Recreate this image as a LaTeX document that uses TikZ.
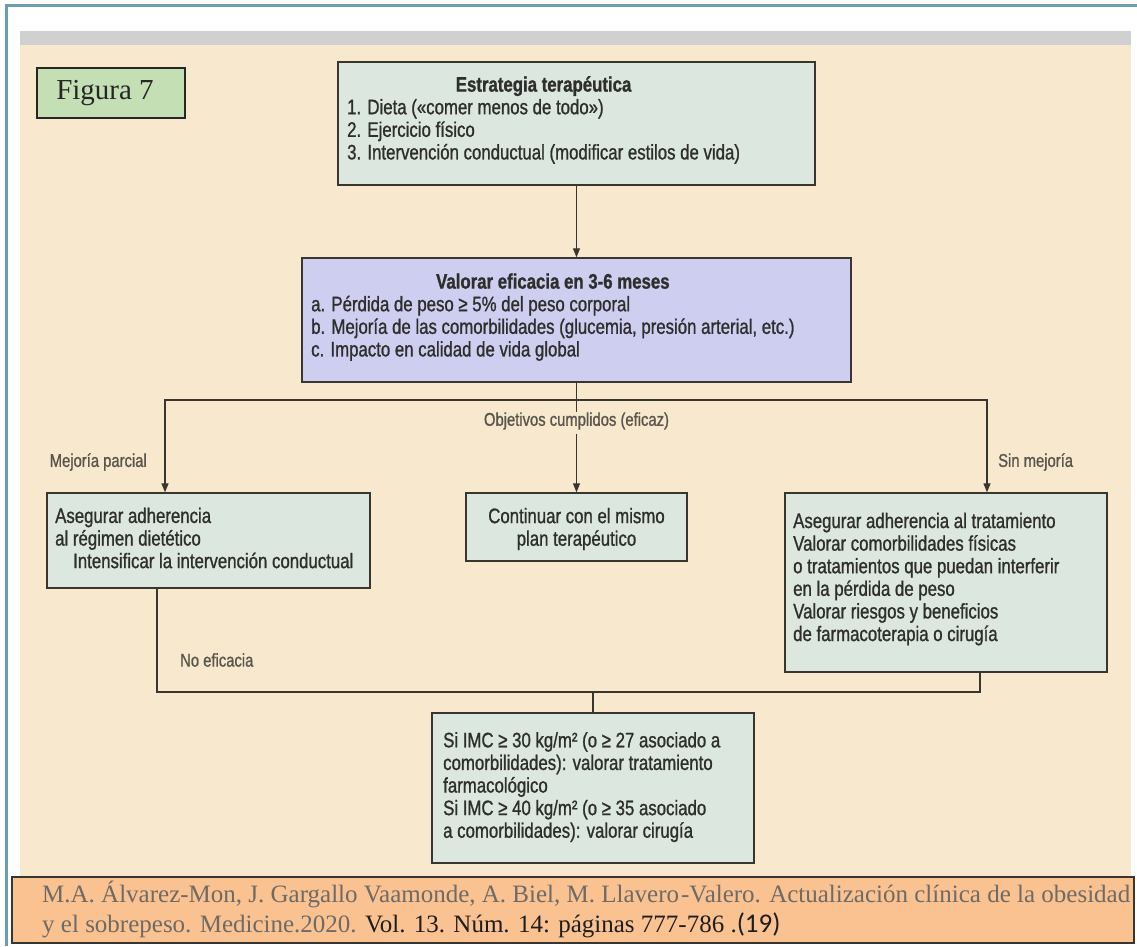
\documentclass[tikz,border=0pt]{standalone}
\usepackage{fontspec}
\setmainfont{Liberation Serif}
\newfontfamily\cond[FakeStretch=0.8,FakeBold=1.0]{Liberation Sans}
\newfontfamily\carl{Carlito}
\usetikzlibrary{arrows.meta}

\definecolor{frameblue}{HTML}{6A9DB2}
\definecolor{band}{HTML}{D0D0D0}
\definecolor{beige}{HTML}{F8E8CD}
\definecolor{boxfill}{HTML}{DCE7DF}
\definecolor{lav}{HTML}{CDCEF0}
\definecolor{edge}{HTML}{38362F}
\definecolor{txt}{HTML}{2E2E2C}
\definecolor{lbl}{HTML}{5A564E}
\definecolor{figgreen}{HTML}{C5DFB5}
\definecolor{citefill}{HTML}{F9C290}
\definecolor{citegray}{HTML}{6E6A66}
\definecolor{citedark}{HTML}{1E1E1E}

\tikzset{
  box/.style={draw=edge, line width=1.4pt, fill=boxfill, inner sep=0pt},
  btxt/.style={font=\cond\fontsize{21}{22.6}\selectfont, text=txt, inner sep=0pt, align=left},
  lab/.style={font=\cond\fontsize{18.5}{20}\selectfont, text=lbl, inner sep=0pt},
  arr/.style={draw=edge, line width=1.3pt, -{Triangle[length=9pt,width=7pt]}},
  wire/.style={draw=edge, line width=1.3pt},
}

\begin{document}
\begin{tikzpicture}[x=1pt,y=-1pt]
\useasboundingbox (0,0) rectangle (1137,946);
\fill[white] (0,0) rectangle (1137,946);
% outer frame and page background
\draw[frameblue, line width=3pt] (6.5,946) -- (6.5,5) -- (1137,5);
\fill[band] (20,31) rectangle (1131,45);
\fill[beige] (20,45) rectangle (1131,878);

% figure tag
\node[draw=black!85, line width=1.5pt, fill=figgreen, minimum width=148pt, minimum height=50pt,
      font=\fontsize{29}{30}\selectfont, text=black!85] (tag) at (111,93) {Figura 7\hspace*{12pt}};

% boxes
\node[box, minimum width=477pt, minimum height=123pt] (strat) at (576.5,123.5) {};
\node[btxt, anchor=west] (stratT) at (347,121) {\begin{tabular}{@{}l@{}}
  \multicolumn{1}{@{}c@{}}{\bfseries Estrategia terapéutica}\\
  1. Dieta («comer menos de todo»)\\
  2. Ejercicio físico\\
  3. Intervención conductual (modificar estilos de vida)\end{tabular}};

\node[box, fill=lav, minimum width=549pt, minimum height=124pt] (eval) at (576.5,320) {};
\node[btxt, anchor=west] (evalT) at (311,318) {\begin{tabular}{@{}l@{}}
  \multicolumn{1}{@{}c@{}}{\bfseries Valorar eficacia en 3-6 meses}\\
  a. Pérdida de peso ≥ 5\% del peso corporal\\
  b. Mejoría de las comorbilidades (glucemia, presión arterial, etc.)\\
  c. Impacto en calidad de vida global\end{tabular}};

\node[box, minimum width=323pt, minimum height=95pt] (lbox) at (208.5,540.5) {};
\node[btxt, anchor=west] (lboxT) at (55,541) {\begin{tabular}{@{}l@{}}
  Asegurar adherencia\\
  al régimen dietético\\
  \hspace*{18pt}Intensificar la intervención conductual\end{tabular}};

\node[box, minimum width=221pt, minimum height=68pt] (mbox) at (576.5,527) {};
\node[btxt, align=center] (mboxT) at (576.5,529) {Continuar con el mismo\\plan terapéutico};

\node[box, minimum width=322pt, minimum height=179pt] (rbox) at (946,582.5) {};
\node[btxt, anchor=west] (rboxT) at (793,580) {\begin{tabular}{@{}l@{}}
  Asegurar adherencia al tratamiento\\
  Valorar comorbilidades físicas\\
  o tratamientos que puedan interferir\\
  en la pérdida de peso\\
  Valorar riesgos y beneficios\\
  de farmacoterapia o cirugía\end{tabular}};

\node[box, minimum width=322pt, minimum height=150pt] (bbox) at (593,788) {};
\node[btxt, anchor=west] (bboxT) at (443,788) {\begin{tabular}{@{}l@{}}
  Si IMC ≥ 30 kg/m² (o ≥ 27 asociado a\\
  comorbilidades): valorar tratamiento\\
  farmacológico\\
  Si IMC ≥ 40 kg/m² (o ≥ 35 asociado\\
  a comorbilidades): valorar cirugía\end{tabular}};

% branch labels
\node[lab, anchor=east] (lpar) at (147,462) {Mejoría parcial};
\node[lab] (lobj) at (576.5,421) {Objetivos cumplidos (eficaz)};
\node[lab, anchor=west] (lsin) at (998,462) {Sin mejoría};
\node[lab, anchor=west] (lno) at (180,660) {No eficacia};

% junction points
\coordinate (jl) at (165,400);
\coordinate (jr) at (987,400);
\coordinate (ja) at (157,692);
\coordinate (jb) at (980,692);

% connectors
\draw[arr] (strat.south) -- (eval.north);
\draw[arr] (eval.south) |- (jl) -- (jl |- lbox.north);
\draw[arr] (eval.south) |- (jr) -- (jr |- rbox.north);
\draw[wire] (eval.south) -- (lobj.north);
\draw[arr] (lobj.south) ++(0,4) -- (mbox.north);
\draw[wire] (lbox.south -| ja) -- (ja) -- (jb) -- (rbox.south -| jb);
\draw[wire] (bbox.north |- ja) -- (bbox.north);

% reference
\node[draw=edge, line width=1.5pt, fill=citefill, minimum width=1122pt, minimum height=66pt, inner sep=0pt] (cite) at (573,910) {};
\node[anchor=west, inner sep=0pt, align=left, font=\fontsize{25}{30}\selectfont, text=citegray] (citeT) at (42,909)
  {M.A. Álvarez-Mon, J. Gargallo Vaamonde, A. Biel, M. Llavero\kern2pt-Valero. Actualización clínica de la obesidad\\
   y el sobrepeso. Medicine.2020. \textcolor{citedark}{Vol. 13. Núm. 14: páginas 777-786 .{\carl\fontsize{27}{30}\selectfont(19)}}};
\end{tikzpicture}
\end{document}
